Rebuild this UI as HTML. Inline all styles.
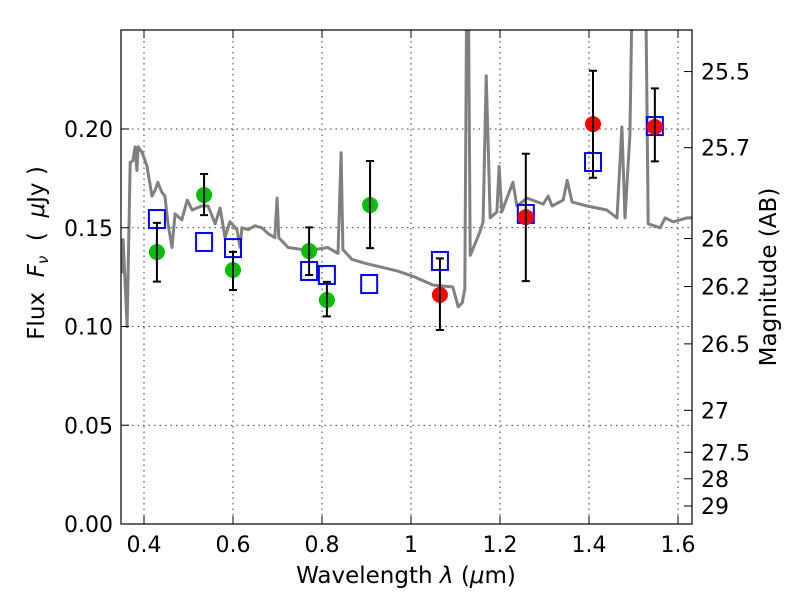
<!DOCTYPE html>
<html><head><meta charset="utf-8"><style>
body{margin:0;background:#fff;width:800px;height:600px;overflow:hidden}
text{font-family:"DejaVu Sans","Liberation Sans",sans-serif;fill:#000}
</style></head><body>
<svg id="chart" width="800" height="600" xmlns="http://www.w3.org/2000/svg">
<defs><clipPath id="clip"><rect x="121" y="30" width="571" height="494"/></clipPath></defs>
<g id="grid"></g>
<g id="plot" clip-path="url(#clip)"></g>
<rect x="121" y="30" width="571" height="494" fill="none" stroke="#000" stroke-width="1.2"/>
<g id="axes"></g>
<text x="406" y="583" font-size="23" text-anchor="middle">Wavelength  <tspan font-style="italic">λ</tspan> (<tspan font-style="italic">μ</tspan>m)</text>
<text transform="translate(44,253) rotate(-90)" font-size="23" text-anchor="middle" xml:space="preserve">Flux  <tspan font-style="italic">F</tspan><tspan font-style="italic" font-size="15" dy="4">ν</tspan><tspan dy="-4">  (  </tspan><tspan font-style="italic">μ</tspan>Jy )</text>
<text transform="translate(776,277) rotate(-90)" font-size="23" text-anchor="middle">Magnitude (AB)</text>
</svg>
<script>
const lamS=[0.350,0.353,0.362,0.369,0.375,0.380,0.384,0.387,0.396,0.407,0.409,0.418,0.425,0.431,0.440,0.447,0.454,0.463,0.470,0.485,0.497,0.508,0.530,0.544,0.560,0.571,0.582,0.593,0.609,0.616,0.620,0.634,0.649,0.665,0.679,0.694,0.699,0.703,0.724,0.755,0.784,0.813,0.836,0.843,0.847,0.867,0.897,0.935,0.971,1.009,1.049,1.094,1.106,1.115,1.121,1.126,1.128,1.133,1.155,1.162,1.169,1.178,1.193,1.198,1.204,1.229,1.238,1.261,1.297,1.308,1.317,1.342,1.351,1.362,1.396,1.440,1.463,1.474,1.481,1.492,1.499,1.526,1.533,1.560,1.571,1.589,1.620,1.634];
const fluxS=[0.127,0.144,0.100,0.183,0.184,0.191,0.179,0.191,0.188,0.181,0.178,0.166,0.169,0.173,0.168,0.166,0.152,0.140,0.157,0.154,0.164,0.159,0.161,0.161,0.152,0.160,0.145,0.153,0.149,0.140,0.150,0.149,0.151,0.150,0.147,0.145,0.165,0.145,0.140,0.139,0.139,0.140,0.137,0.188,0.139,0.134,0.132,0.130,0.128,0.125,0.121,0.120,0.110,0.112,0.119,0.300,0.300,0.136,0.148,0.153,0.227,0.155,0.158,0.181,0.158,0.173,0.161,0.165,0.162,0.166,0.161,0.164,0.174,0.163,0.161,0.159,0.155,0.201,0.155,0.197,0.300,0.300,0.152,0.150,0.155,0.153,0.155,0.155];
const obsLamG=[0.429,0.535,0.600,0.771,0.811,0.908];
const obsFluxG=[0.1377,0.1666,0.1286,0.1382,0.1134,0.1615];
const obsErrHiG=[0.1525,0.1772,0.1378,0.1502,0.1226,0.1838];
const obsErrLoG=[0.1227,0.1564,0.1185,0.1261,0.1051,0.1397];
const obsLamR=[1.065,1.258,1.409,1.548];
const obsFluxR=[0.1160,0.1554,0.2025,0.2010];
const obsErrHiR=[0.1345,0.1875,0.2295,0.2206];
const obsErrLoR=[0.0982,0.1230,0.1753,0.1836];
const modLam=[0.429,0.535,0.600,0.771,0.811,0.906,1.065,1.258,1.409,1.548];
const modFlux=[0.1544,0.1428,0.1397,0.1281,0.1261,0.1215,0.1332,0.1570,0.1833,0.2015];
const xTicks=[0.4,0.6,0.8,1.0,1.2,1.4,1.6];
const xTickLabels=["0.4","0.6","0.8","1","1.2","1.4","1.6"];
const yTicks=[0,0.05,0.10,0.15,0.20];
const yTickLabels=["0.00","0.05","0.10","0.15","0.20"];
const magTicks=[25.5,25.7,26,26.2,26.5,27,27.5,28,29];
const magLabels=["25.5","25.7","26","26.2","26.5","27","27.5","28","29"];

const X=l=>144+(l-0.4)*445;
const Y=f=>524-f*1975;
const NS="http://www.w3.org/2000/svg";
function mk(parent,tag,attrs){const e=document.createElementNS(NS,tag);for(const k in attrs)e.setAttribute(k,attrs[k]);document.getElementById(parent).appendChild(e);return e;}

xTicks.forEach((t,i)=>{
  const g=mk('grid','line',{x1:X(t),x2:X(t),y1:30,y2:524,stroke:'#000','stroke-width':0.8,'stroke-dasharray':'1.5,4'});
  
  
  mk('axes','line',{x1:X(t),x2:X(t),y1:524,y2:516,stroke:'#000'});
  mk('axes','line',{x1:X(t),x2:X(t),y1:30,y2:38,stroke:'#000'});
  const tx=mk('axes','text',{x:X(t),y:552,'font-size':22,'text-anchor':'middle'});
  tx.textContent=xTickLabels[i];
  
  
});
yTicks.forEach((t,i)=>{
  const g=mk('grid','line',{x1:121,x2:692,y1:Y(t),y2:Y(t),stroke:'#000','stroke-width':0.8,'stroke-dasharray':'1.5,4'});
  
  
  mk('axes','line',{x1:121,x2:129,y1:Y(t),y2:Y(t),stroke:'#000'});
  const tx=mk('axes','text',{x:113,y:Y(t)+8,'font-size':22,'text-anchor':'end'});
  tx.textContent=yTickLabels[i];
  
  
});
magTicks.forEach((m,i)=>{
  const f=Math.pow(10,(23.9-m)/2.5);
  mk('axes','line',{x1:684,x2:692,y1:Y(f),y2:Y(f),stroke:'#000'});
  const tx=mk('axes','text',{x:701,y:Y(f)+8,'font-size':22});
  tx.textContent=magLabels[i];
  
  
});
const pts=lamS.map((l,i)=>X(l).toFixed(1)+','+Y(fluxS[i]).toFixed(1)).join(' ');
const sp=mk('plot','polyline',{points:pts,fill:'none',stroke:'#808080','stroke-width':3,'stroke-linejoin':'round'});


modLam.forEach((l,i)=>{
  const r=mk('plot','rect',{x:X(l)-8,y:Y(modFlux[i])-9,width:16,height:18,fill:'none',stroke:'#0000ff','stroke-width':2});
  
  
});
function obs(lams,fl,hi,lo,col,name){
  lams.forEach((l,i)=>{
    const x=X(l);
    const c=mk('plot','circle',{cx:x,cy:Y(fl[i]),r:8,fill:col});
    
    
    const e=mk('plot','path',{d:`M${x},${Y(hi[i])}V${Y(lo[i])}M${x-4},${Y(hi[i])}h8M${x-4},${Y(lo[i])}h8`,stroke:'#000','stroke-width':2,fill:'none'});
    
    
  });
}
obs(obsLamG,obsFluxG,obsErrHiG,obsErrLoG,'#00bf00','observed-point-green');
obs(obsLamR,obsFluxR,obsErrHiR,obsErrLoR,'#ff0000','observed-point-red');
</script>
</body></html>
